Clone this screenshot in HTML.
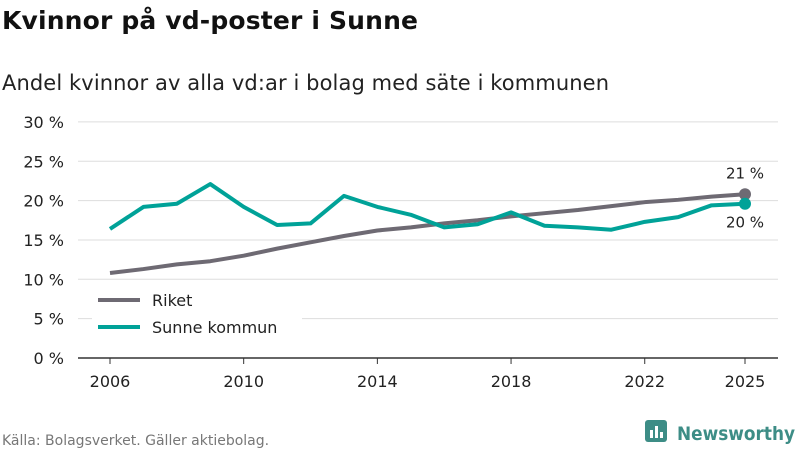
<!DOCTYPE html>
<html><head><meta charset="utf-8">
<style>
body{margin:0;width:800px;height:450px;background:#fff;font-family:"DejaVu Sans","Liberation Sans",sans-serif;overflow:hidden}
svg{position:absolute;left:0;top:0}
</style></head><body>
<svg width="800" height="450">
<text x="2" y="29" font-size="25" font-weight="bold" fill="#111" textLength="416">Kvinnor på vd-poster i Sunne</text>
<text x="2" y="90" font-size="21" fill="#222" textLength="607">Andel kvinnor av alla vd:ar i bolag med säte i kommunen</text>
<g id="grid"></g><g id="xt"></g>
<g id="lines"></g>
<g>
<rect x="92" y="288" width="210" height="52" fill="#fff"/>
<line x1="98" y1="300" x2="140" y2="300" stroke="#6e6a73" stroke-width="4"/>
<text x="152" y="306" font-size="16" fill="#222">Riket</text>
<line x1="98" y1="327" x2="140" y2="327" stroke="#00a298" stroke-width="4"/>
<text x="152" y="333" font-size="16" fill="#222">Sunne kommun</text>
</g>
<text x="2" y="445" font-size="14" fill="#777">Källa: Bolagsverket. Gäller aktiebolag.</text>
<g>
<rect x="645" y="420" width="22" height="22" rx="3" fill="#3d8d86"/>
<rect x="650" y="430" width="3" height="8" fill="#fff"/><rect x="655" y="426" width="3" height="12" fill="#fff"/><rect x="660" y="432" width="3" height="6" fill="#fff"/>
<text x="677" y="440" font-size="19" font-weight="bold" fill="#3d8d86" textLength="118" lengthAdjust="spacingAndGlyphs">Newsworthy</text>
</g>
</svg>
<script>
const years=[2006,2007,2008,2009,2010,2011,2012,2013,2014,2015,2016,2017,2018,2019,2020,2021,2022,2023,2024,2025];
const riket=[10.8,11.3,11.9,12.3,13.0,13.9,14.7,15.5,16.2,16.6,17.1,17.5,18.0,18.4,18.8,19.3,19.8,20.1,20.5,20.8];
const sunne=[16.4,19.2,19.6,22.1,19.2,16.9,17.1,20.6,19.2,18.2,16.6,17.0,18.5,16.8,16.6,16.3,17.3,17.9,19.4,19.6];
const yTicks=[0,5,10,15,20,25,30];
const xTicks=[2006,2010,2014,2018,2022,2025];
const NS='http://www.w3.org/2000/svg';
const X=y=>110+(y-2006)*(635/19);
const Y=v=>358-v*7.87;
function mk(t,a,p){const e=document.createElementNS(NS,t);for(const k in a)e.setAttribute(k,a[k]);p.appendChild(e);return e;}
const grid=document.getElementById('grid');
yTicks.forEach(v=>{
 const l=mk('line',{x1:78,x2:778,y1:Y(v),y2:Y(v),stroke:v===0?'#333':'#ddd','stroke-width':v===0?1.5:1},grid);
 
 
 const t=mk('text',{x:64,y:Y(v)+6,'font-size':16,fill:'#222','text-anchor':'end'},grid);
 t.textContent=v+' %';
 
 
});
const xt=document.getElementById('xt');
xTicks.forEach(y=>{
 const l=mk('line',{x1:X(y),x2:X(y),y1:358,y2:364,stroke:'#333'},xt);
 
 
 const t=mk('text',{x:X(y),y:387,'font-size':16,fill:'#222','text-anchor':'middle'},xt);
 t.textContent=y;
 
 
});
const g=document.getElementById('lines');
function series(vals,color,name,labelDy){
 const p=mk('polyline',{points:vals.map((v,i)=>X(years[i])+','+Y(v)).join(' '),fill:'none',stroke:color,'stroke-width':4,'stroke-linejoin':'round'},g);
 
 
 const n=vals.length-1;
 const c=mk('circle',{cx:X(years[n]),cy:Y(vals[n]),r:6,fill:color},g);
 
 
 const t=mk('text',{x:X(years[n]),y:Y(vals[n])+labelDy,'font-size':15,fill:'#222','text-anchor':'middle'},g);
 t.textContent=Math.round(vals[n])+' %';
 
 
}
series(riket,'#6e6a73','riket',-16);
series(sunne,'#00a298','sunne',24);
</script>
</body></html>
